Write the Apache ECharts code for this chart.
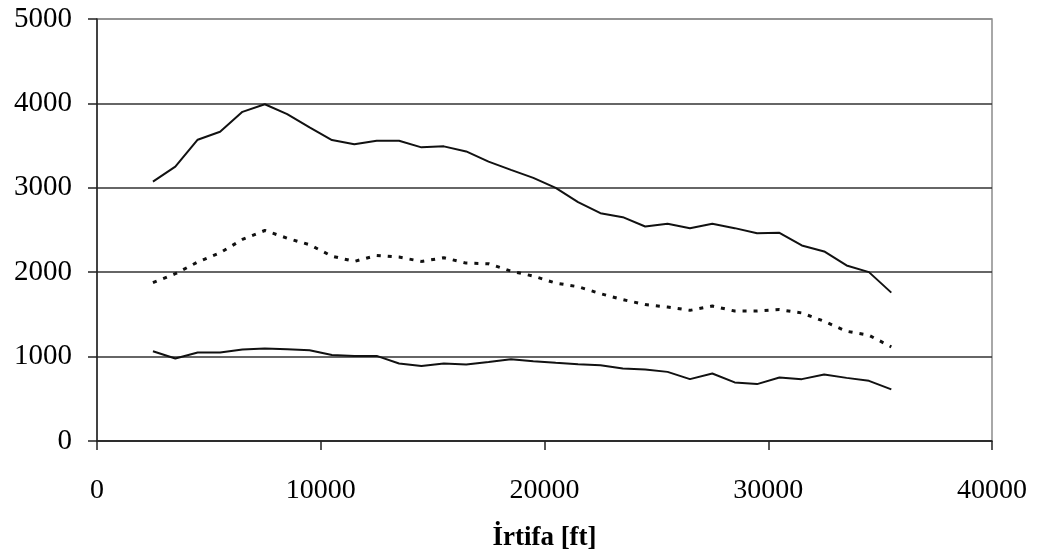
<!DOCTYPE html>
<html>
<head>
<meta charset="utf-8">
<script src="https://cdn.jsdelivr.net/npm/echarts@6/dist/echarts.min.js"></script>
<style>
    html, body { margin: 0; padding: 0; background: #fff; }
    #grafico { width: 1043px; height: 553px; }
</style>
</head>
<body>
<div id="grafico"></div>
<script>
    // altitude (ft) of each reading
    var irtifa = [2500, 3500, 4500, 5500, 6500, 7500, 8500, 9500, 10500, 11500, 12500, 13500,
        14500, 15500, 16500, 17500, 18500, 19500, 20500, 21500, 22500, 23500, 24500, 25500,
        26500, 27500, 28500, 29500, 30500, 31500, 32500, 33500, 34500, 35500];

    var ustSeri = [3073, 3250, 3570, 3664, 3900, 3990, 3873, 3715, 3566, 3515, 3558, 3558,
        3479, 3491, 3431, 3310, 3212, 3117, 2999, 2830, 2699, 2652, 2541, 2573,
        2522, 2573, 2522, 2462, 2467, 2317, 2246, 2080, 2001, 1758];

    var ortaSeri = [1876, 1982, 2120, 2230, 2388, 2494, 2403, 2325, 2190, 2128, 2199, 2179,
        2128, 2171, 2108, 2100, 2013, 1954, 1871, 1828, 1746, 1675, 1616, 1588,
        1548, 1599, 1540, 1540, 1557, 1517, 1418, 1300, 1253, 1115];

    var altSeri = [1064, 977, 1048, 1048, 1084, 1096, 1087, 1076, 1020, 1008, 1008, 918,
        890, 918, 906, 937, 969, 946, 926, 910, 898, 859, 847, 819,
        733, 800, 694, 674, 753, 733, 788, 748, 713, 611];

    function eslestir(degerler) {
        return irtifa.map(function (x, i) { return [x, degerler[i]]; });
    }

    // no thousands separator, like the original
    function duzSayi(v) { return String(v); }

    var yaziTipi = '"Liberation Serif", "Times New Roman", serif';
    var myChart = echarts.init(document.getElementById('grafico'));

    var option = {
        animation: false,
        backgroundColor: '#fff',
        grid: {
            left: 97, right: 51, top: 19, bottom: 112,
            outerBoundsMode: 'none',
            show: true, borderColor: '#8c8c8c', borderWidth: 1.5
        },
        xAxis: {
            type: 'value',
            min: 0, max: 40000, interval: 10000,
            name: 'İrtifa [ft]',
            nameLocation: 'middle',
            nameGap: 84,
            nameTextStyle: { fontFamily: yaziTipi, fontWeight: 'bold', fontSize: 27, color: '#000' },
            axisLine: { show: true, onZero: false, lineStyle: { color: '#222', width: 1.5 } },
            axisTick: { show: true, length: 9, lineStyle: { color: '#222', width: 1.5 } },
            axisLabel: { margin: 36, fontFamily: yaziTipi, fontSize: 28, color: '#000', formatter: duzSayi },
            splitLine: { show: false }
        },
        yAxis: {
            type: 'value',
            min: 0, max: 5000, interval: 1000,
            axisLine: { show: true, lineStyle: { color: '#222', width: 1.5 } },
            axisTick: { show: true, length: 9, lineStyle: { color: '#222', width: 1.5 } },
            axisLabel: { margin: 25, fontFamily: yaziTipi, fontSize: 29, color: '#000', formatter: duzSayi },
            splitLine: {
                show: true,
                lineStyle: { color: ['#333', '#333', '#333', '#333', '#333', '#8c8c8c'], width: 1.5 }
            }
        },
        series: [
            {
                type: 'line', data: eslestir(ustSeri), symbol: 'none',
                lineStyle: { color: '#111', width: 2 }
            },
            {
                type: 'line', data: eslestir(ortaSeri), symbol: 'none',
                lineStyle: { color: '#111', width: 3, type: [4, 7] }
            },
            {
                type: 'line', data: eslestir(altSeri), symbol: 'none',
                lineStyle: { color: '#111', width: 2 }
            }
        ]
    };

    myChart.setOption(option);
</script>
</body>
</html>
